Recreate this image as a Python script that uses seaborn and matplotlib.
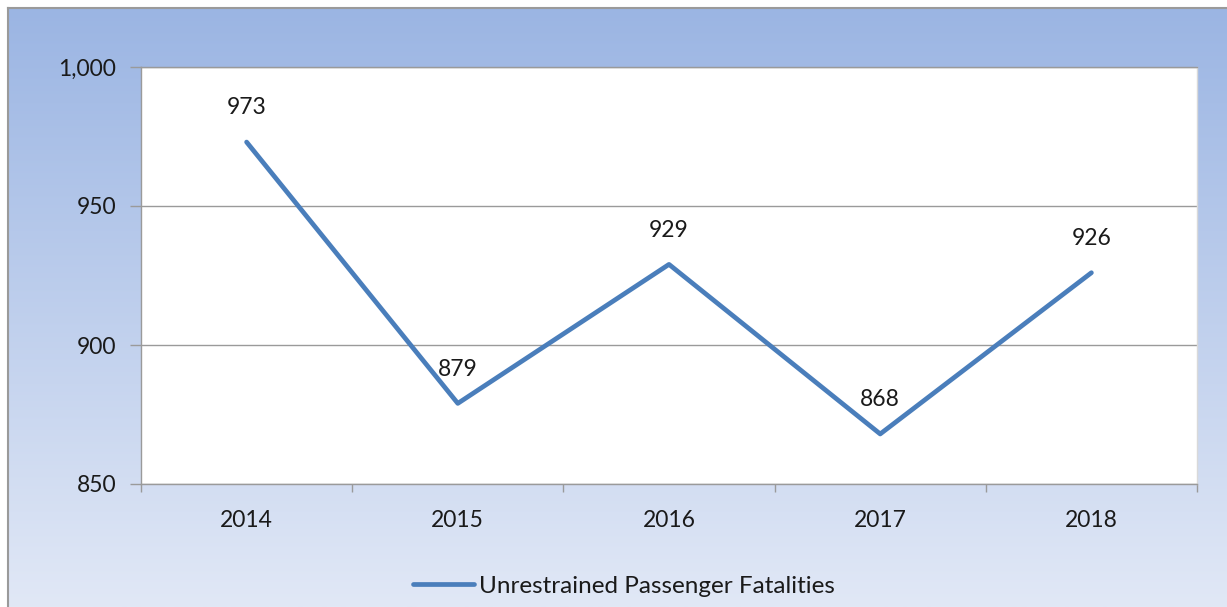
import numpy as np
import pandas as pd
import matplotlib
matplotlib.use("Agg")
import matplotlib.pyplot as plt
import seaborn as sns

# data
years = ["2014", "2015", "2016", "2017", "2018"]
fatalities = [973, 879, 929, 868, 926]
series_name = "Unrestrained Passenger Fatalities"
y_ticks = [850, 900, 950, 1000]

sns.set_theme(style="white")
plt.rcParams["font.family"] = ["Lato", "DejaVu Sans"]

W, H = 1227, 607
fig = plt.figure(figsize=(W / 100, H / 100), dpi=100)
fig.patch.set_facecolor("white")

# gradient frame behind the chart
bg = fig.add_axes([8 / W, 0, 1 - 8 / W, 1 - 8 / H], zorder=0)
grad = np.linspace(0, 1, 256).reshape(-1, 1)
top = np.array([155, 181, 227]) / 255
bot = np.array([225, 232, 246]) / 255
img = top[None, None, :] * (1 - grad[:, :, None]) + bot[None, None, :] * grad[:, :, None]
bg.imshow(img, aspect="auto", extent=[0, 1, 0, 1])
bg.set_xlim(0, 1)
bg.set_ylim(0, 1)
bg.set_xticks([])
bg.set_yticks([])
for side, sp in bg.spines.items():
    sp.set_visible(side in ("left", "top"))
    sp.set_color("#9a9a9a")
    sp.set_linewidth(1.5)

# main plot area
ax = fig.add_axes([141 / W, 1 - 484 / H, (1197 - 141) / W, (484 - 67) / H], zorder=1)
ax.set_facecolor("white")

df = pd.DataFrame({"pos": np.arange(len(years)), "value": fatalities})
sns.lineplot(data=df, x="pos", y="value", ax=ax, color="#4A7EBB", linewidth=3.4,
             label=series_name, legend=False)

for i, v in enumerate(fatalities):
    ax.annotate(f"{v}", (i, v), xytext=(0, 17), textcoords="offset points",
                ha="center", va="bottom", fontsize=16.5, color="#1a1a1a")

ax.set_xlim(-0.5, len(years) - 0.5)
ax.set_ylim(850, 1000)
ax.set_yticks(y_ticks)
ax.set_yticklabels([f"{t:,}" for t in y_ticks])
ax.set_xticks(np.arange(len(years)))
ax.set_xticklabels(years)
ax.set_xticks(np.arange(len(years) + 1) - 0.5, minor=True)
ax.set_xlabel("")
ax.set_ylabel("")

ax.yaxis.grid(True, color="#9a9a9a", linewidth=1)
ax.set_axisbelow(True)
ax.tick_params(axis="x", which="major", length=0, pad=19, labelsize=16.5, labelcolor="#1a1a1a")
ax.tick_params(axis="x", which="minor", length=6, width=1, color="#9a9a9a", direction="out", bottom=True)
ax.tick_params(axis="y", length=8, width=1, color="#9a9a9a", direction="out", left=True,
               pad=10, labelsize=16.5, labelcolor="#1a1a1a")

for side, sp in ax.spines.items():
    sp.set_color("#9a9a9a")
    sp.set_linewidth(1)
ax.spines["right"].set_color("#d9d9d9")

handles, labels = ax.get_legend_handles_labels()
fig.legend(handles, labels, loc="center", bbox_to_anchor=(624 / W, 1 - 586 / H),
           frameon=False, fontsize=17.5, handlelength=2.5, handletextpad=0.2,
           labelcolor="#1a1a1a")

fig.savefig("out.png", dpi=100)
